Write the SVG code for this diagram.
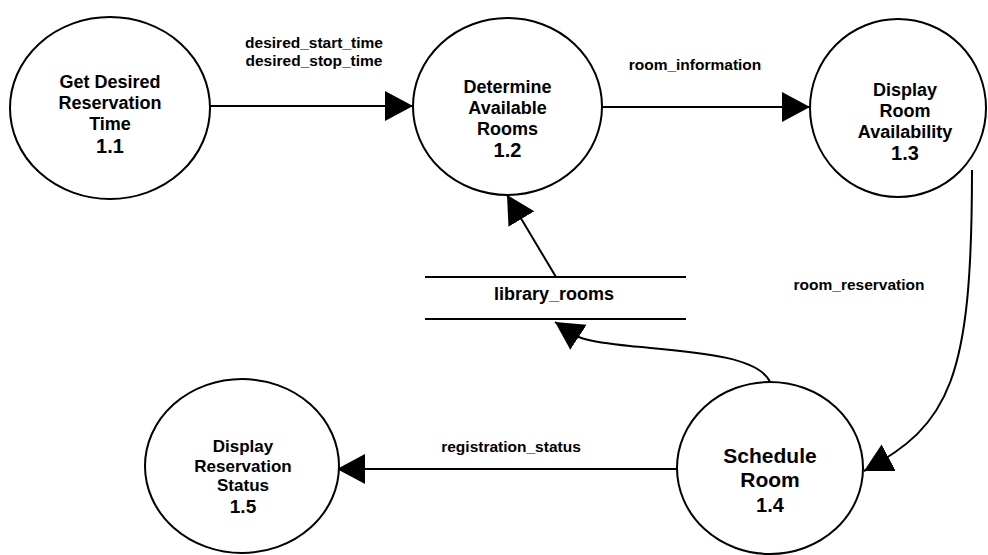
<svg xmlns="http://www.w3.org/2000/svg" width="988" height="555" viewBox="0 0 988 555">
  <style>
    .bubble { fill: #ffffff; stroke: #000000; stroke-width: 2; }
    .flow { fill: none; stroke: #000000; stroke-width: 2; }
    .store { stroke: #000000; stroke-width: 2.2; }
    text { font-family: "Liberation Sans", Arial, Helvetica, sans-serif; font-weight: bold; fill: #000000; text-anchor: middle; }
    .name { font-size: 18px; }
    .num { font-size: 20px; }
    .label { font-size: 15.5px; }
  </style>
  <defs>
    <marker id="head" markerUnits="userSpaceOnUse" markerWidth="30" markerHeight="32" refX="28" refY="15" orient="auto" viewBox="0 0 30 32">
      <path d="M0,0 L28,15 L0,30 Z" fill="#000000"/>
    </marker>
  </defs>

  <!-- data flows -->
  <g id="connectors">
    <path class="flow" d="M210,106 L413,106" marker-end="url(#head)"/>
    <path class="flow" d="M602,107 L810,107" marker-end="url(#head)"/>
    <path class="flow" d="M556,277 L507,195" marker-end="url(#head)"/>
    <path class="flow" d="M972,170 C972,380 950,425 864,471" marker-end="url(#head)"/>
    <path class="flow" d="M770,382 C758,355 690,352 630,346 S575,335 555,322" marker-end="url(#head)"/>
    <path class="flow" d="M677,469 L337,469" marker-end="url(#head)"/>

    <text class="label" x="314" y="48">desired_start_time</text>
    <text class="label" x="314" y="66">desired_stop_time</text>
    <text class="label" x="695" y="70">room_information</text>
    <text class="label" x="859" y="290">room_reservation</text>
    <text class="label" x="511" y="452">registration_status</text>
  </g>

  <!-- processes -->
  <g id="p1-1">
    <ellipse class="bubble" cx="110" cy="108" rx="100" ry="91"/>
    <text class="name" x="110" y="88">Get Desired</text>
    <text class="name" x="110" y="109">Reservation</text>
    <text class="name" x="110" y="130">Time</text>
    <text class="num" x="110" y="153">1.1</text>
  </g>

  <g id="p1-2">
    <ellipse class="bubble" cx="507.5" cy="106.5" rx="94.5" ry="88.5"/>
    <text class="name" x="507.5" y="93">Determine</text>
    <text class="name" x="507.5" y="114">Available</text>
    <text class="name" x="507.5" y="135">Rooms</text>
    <text class="num" x="507.5" y="157">1.2</text>
  </g>

  <g id="p1-3">
    <ellipse class="bubble" cx="898" cy="108" rx="88" ry="89"/>
    <text class="name" x="905" y="96">Display</text>
    <text class="name" x="905" y="117">Room</text>
    <text class="name" x="905" y="138">Availability</text>
    <text class="num" x="905" y="160">1.3</text>
  </g>

  <g id="p1-4">
    <ellipse class="bubble" cx="770" cy="468" rx="93" ry="86"/>
    <text x="770" y="463" font-size="21">Schedule</text>
    <text x="770" y="487" font-size="21">Room</text>
    <text x="770" y="512" font-size="20">1.4</text>
  </g>

  <g id="p1-5">
    <ellipse class="bubble" cx="242" cy="466" rx="97" ry="87"/>
    <text x="243" y="452" font-size="17">Display</text>
    <text x="243" y="472" font-size="17">Reservation</text>
    <text x="243" y="491" font-size="17">Status</text>
    <text x="243" y="513" font-size="19">1.5</text>
  </g>

  <!-- data store -->
  <g id="library_rooms">
    <line class="store" x1="425" y1="277" x2="686" y2="277"/>
    <line class="store" x1="425" y1="319" x2="686" y2="319"/>
    <text x="554" y="300" font-size="18">library_rooms</text>
  </g>
</svg>
